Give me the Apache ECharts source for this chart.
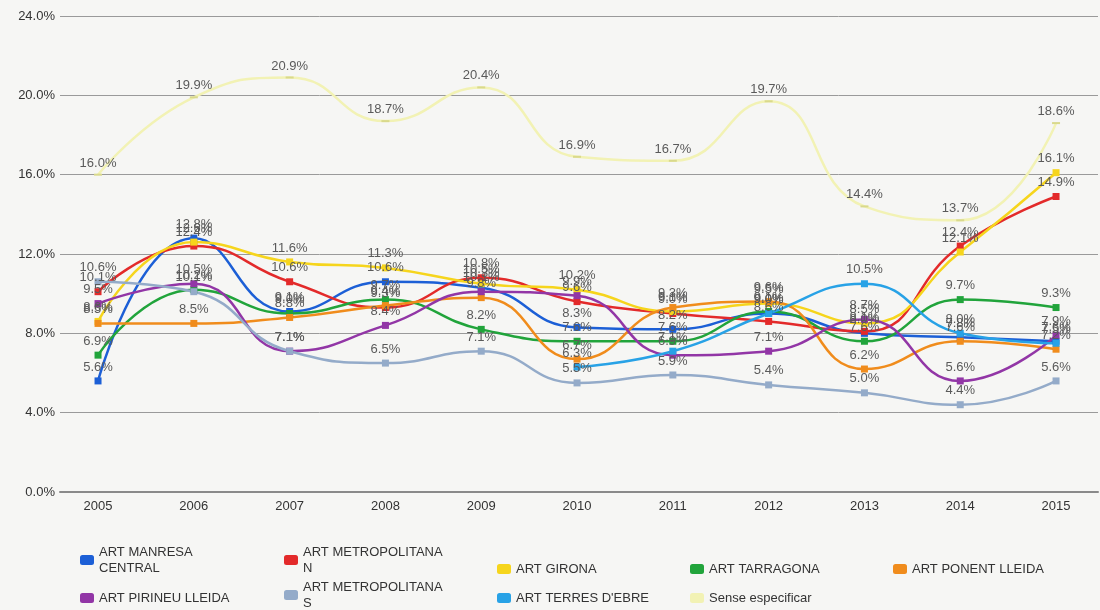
<!DOCTYPE html>
<html>
<head>
<meta charset="utf-8">
<script src="https://cdn.jsdelivr.net/npm/echarts@6/dist/echarts.min.js"></script>
<style>
  html, body { margin: 0; padding: 0; background: #f6f6f4; }
  #chart { width: 1100px; height: 610px; }
</style>
</head>
<body>
<div id="chart"></div>
<script>
// Years on the horizontal axis
const years = ['2005', '2006', '2007', '2008', '2009', '2010', '2011', '2012', '2013', '2014', '2015'];

// Percentages per area (null = no data that year)
const manresaCentral   = [5.6, 12.8, 9.1, 10.6, 10.3, 8.3, 8.2, 9.0, 8.0, 7.8, 7.6];
const metropolitanaN   = [10.1, 12.4, 10.6, 9.3, 10.8, 9.6, 9.0, 8.6, 8.1, 12.4, 14.9];
const girona           = [8.6, 12.6, 11.6, 11.3, 10.5, 10.2, 9.1, 9.5, 8.5, 12.1, 16.1];
const tarragona        = [6.9, 10.2, 9.0, 9.7, 8.2, 7.6, 7.6, 9.1, 7.6, 9.7, 9.3];
const ponentLleida     = [8.5, 8.5, 8.8, 9.4, 9.8, 6.7, 9.3, 9.6, 6.2, 7.6, 7.2];
const pirineuLleida    = [9.5, 10.5, 7.1, 8.4, 10.1, 9.9, 6.9, 7.1, 8.7, 5.6, 7.9];
const metropolitanaS   = [10.6, 10.1, 7.1, 6.5, 7.1, 5.5, 5.9, 5.4, 5.0, 4.4, 5.6];
const terresEbre       = [null, null, null, null, null, 6.3, 7.1, 9.0, 10.5, 8.0, 7.5];
const senseEspecificar = [16.0, 19.9, 20.9, 18.7, 20.4, 16.9, 16.7, 19.7, 14.4, 13.7, 18.6];

// Value-axis tick labels
const yTicks = [0, 4, 8, 12, 16, 20, 24];

const seriesDefs = [
  { name: 'ART MANRESA CENTRAL',     label: 'ART MANRESA\nCENTRAL',     data: manresaCentral,   color: '#1c5fd6' },
  { name: 'ART METROPOLITANA N',     label: 'ART METROPOLITANA\nN',     data: metropolitanaN,   color: '#e32a2a' },
  { name: 'ART GIRONA',              label: 'ART GIRONA',               data: girona,           color: '#f6d51c' },
  { name: 'ART TARRAGONA',           label: 'ART TARRAGONA',            data: tarragona,        color: '#21a43b' },
  { name: 'ART PONENT LLEIDA',       label: 'ART PONENT LLEIDA',        data: ponentLleida,     color: '#f08c1c' },
  { name: 'ART PIRINEU LLEIDA',      label: 'ART PIRINEU LLEIDA',       data: pirineuLleida,    color: '#9236a6' },
  { name: 'ART METROPOLITANA S',     label: 'ART METROPOLITANA\nS',     data: metropolitanaS,   color: '#94abc9' },
  { name: "ART TERRES D'EBRE",       label: "ART TERRES D'EBRE",        data: terresEbre,       color: '#28a2e6' },
  { name: 'Sense especificar',       label: 'Sense especificar',        data: senseEspecificar, color: '#f2f2b4' }
];

// Legend slots: [icon left, text-block top]
const legendSlots = [
  [80, 544], [284, 544], [497, 561], [690, 561], [893, 561],
  [80, 590], [284, 579], [497, 590], [690, 590]
];

const FONT = 'Liberation Sans, Arial, sans-serif';

const chart = echarts.init(document.getElementById('chart'), null, { renderer: 'canvas' });

const series = seriesDefs.map(function (s) {
  const isSense = s.name === 'Sense especificar';
  return {
    name: s.name,
    type: 'line',
    smooth: 0.5,
    data: s.data.map(function (v, i) { return [Number(years[i]), v == null ? '-' : v]; }),
    symbol: 'rect',
    symbolSize: isSense ? [8, 2] : 7,
    showSymbol: true,
    connectNulls: false,
    lineStyle: { width: 2.5, color: s.color },
    itemStyle: { color: isSense ? '#d9d98c' : s.color },
    label: {
      show: true,
      position: 'top',
      distance: 4,
      color: '#5a5a5a',
      fontSize: 13,
      fontFamily: FONT,
      formatter: function (p) { return p.value[1].toFixed(1) + '%'; }
    },
    emphasis: { disabled: true },
    animation: false
  };
});

const legends = seriesDefs.map(function (s, i) {
  return {
    data: [s.name],
    left: legendSlots[i][0],
    top: legendSlots[i][1],
    orient: 'horizontal',
    padding: 0,
    itemWidth: 14,
    itemHeight: 10,
    icon: 'roundRect',
    itemStyle: { color: s.color },
    formatter: function () { return s.label; },
    textStyle: { color: '#333', fontSize: 13, fontFamily: FONT, lineHeight: 16 },
    selectedMode: false
  };
});

chart.setOption({
  backgroundColor: '#f6f6f4',
  animation: false,
  grid: { left: 60, right: 2, top: 16, bottom: 118, containLabel: false },
  xAxis: {
    type: 'value',
    min: 2004.603,
    max: 2015.438,
    splitLine: { show: false },
    axisLine: { show: true, onZero: false, lineStyle: { color: '#8a8a8a', width: 2 } },
    axisTick: { show: false },
    axisLabel: {
      customValues: years.map(Number),
      color: '#333',
      fontSize: 13,
      fontFamily: FONT,
      margin: 8,
      formatter: function (v) { return String(Math.round(v)); }
    }
  },
  yAxis: {
    type: 'value',
    min: yTicks[0],
    max: yTicks[yTicks.length - 1],
    interval: 4,
    axisLine: { show: false },
    axisTick: { show: false },
    splitLine: { show: true, lineStyle: { color: '#9a9a9a', width: 1 } },
    axisLabel: {
      color: '#333',
      fontSize: 13,
      fontFamily: FONT,
      margin: 5,
      formatter: function (v) { return v.toFixed(1) + '%'; }
    }
  },
  legend: legends,
  series: series
});
</script>
</body>
</html>
